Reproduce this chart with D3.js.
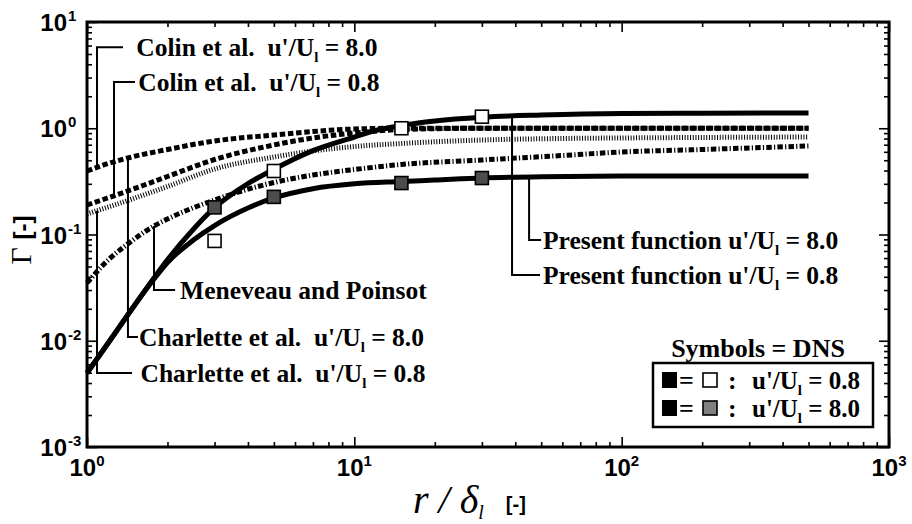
<!DOCTYPE html>
<html>
<head>
<meta charset="utf-8">
<script src="https://cdn.jsdelivr.net/npm/d3@7"></script>
<style>
  html, body { margin: 0; padding: 0; background: #fff; }
  svg { display: block; }
  text { white-space: pre; }
</style>
</head>
<body>
<svg id="chart" width="912" height="524"></svg>
<script>
// ---- model curves: Gamma versus r / delta_l ----
const present08R   = [1, 1.2, 1.42, 1.78, 2, 2.5, 3, 4, 5, 7, 10, 12, 15, 20, 30, 50, 100, 200, 500];
const present08    = [0.00497, 0.00952, 0.01748, 0.039, 0.0578, 0.1122, 0.1788, 0.3013, 0.411, 0.616, 0.827, 0.952, 1.061, 1.17, 1.27, 1.332, 1.377, 1.385, 1.391];
const present80R   = [1, 1.2, 1.42, 1.78, 2, 2.5, 3, 4, 5, 7, 10, 15, 20, 30, 50, 100, 500];
const present80    = [0.00497, 0.00952, 0.01748, 0.0381, 0.0545, 0.0887, 0.1215, 0.1776, 0.2206, 0.27, 0.30, 0.315, 0.325, 0.34, 0.35, 0.355, 0.355];

const colin80R     = [1, 1.2, 1.42, 2, 3, 5, 7, 10, 15, 30, 100, 500];
const colin80      = [0.396, 0.465, 0.525, 0.631, 0.759, 0.864, 0.932, 0.984, 1.0, 1.0, 1.0, 1.0];
const colin08R     = [1, 1.42, 2, 3, 5, 7, 10, 15, 30, 100, 500];
const colin08      = [0.1895, 0.2566, 0.3515, 0.508, 0.696, 0.81, 0.902, 0.973, 1.0, 1.0, 1.0];

const charlette08R = [1, 1.42, 2, 3, 5, 7, 10, 15, 30, 60, 100, 200, 500];
const charlette08  = [0.156, 0.209, 0.283, 0.4135, 0.536, 0.611, 0.673, 0.719, 0.775, 0.801, 0.81, 0.819, 0.827];

const meneveauR    = [1, 1.2, 1.42, 1.78, 2, 3, 5, 7, 10, 15, 30, 60, 100, 200, 500];
const meneveau     = [0.035, 0.0575, 0.0814, 0.1202, 0.14, 0.2113, 0.3086, 0.363, 0.409, 0.456, 0.5025, 0.554, 0.5976, 0.631, 0.681];

// ---- DNS symbols ----
const dnsR         = [3, 5, 15, 30];
const dns08        = [0.087, 0.396, 1.0, 1.285];
const dns80        = [0.18, 0.226, 0.305, 0.34];

// ---- axis ticks ----
const xMajor = [1, 10, 100, 1000];
const xExp   = ["0", "1", "2", "3"];
const yMajor = [10, 1, 0.1, 0.01, 0.001];
const yExp   = ["1", "0", "-1", "-2", "-3"];

const svg = d3.select("#chart");
const L = 87, R = 889, T = 22, B = 447;

const x = d3.scaleLog().domain([1, 1000]).range([L, R]);
const y = d3.scaleLog().domain([0.001, 10]).range([B, T]);

function minorTicks(lo, hi) {
  const out = [];
  for (let d = lo; d < hi; d *= 10)
    for (let k = 2; k <= 9; k++) out.push(d * k);
  return out;
}
const xMinor = minorTicks(1, 1000);
const yMinor = minorTicks(0.001, 10);

// ---- ticks on all four sides, pointing inward ----
function tickAxis(gen, tr, values, size) {
  const g = svg.append("g").attr("transform", tr)
    .call(gen.tickValues(values).tickSize(size).tickFormat(""));
  g.select(".domain").remove();
  g.selectAll(".tick line").attr("stroke", "#000").attr("stroke-width", 1.6);
}
tickAxis(d3.axisBottom(x), `translate(0,${B})`, xMajor, -10);
tickAxis(d3.axisBottom(x), `translate(0,${B})`, xMinor, -5);
tickAxis(d3.axisTop(x), `translate(0,${T})`, xMajor, -10);
tickAxis(d3.axisTop(x), `translate(0,${T})`, xMinor, -5);
tickAxis(d3.axisLeft(y), `translate(${L},0)`, yMajor, -10);
tickAxis(d3.axisLeft(y), `translate(${L},0)`, yMinor, -5);
tickAxis(d3.axisRight(y), `translate(${R},0)`, yMajor, -10);
tickAxis(d3.axisRight(y), `translate(${R},0)`, yMinor, -5);

// ---- tick labels with powers of ten ----
const tickFont = "'Liberation Sans', Arial, sans-serif";
xMajor.forEach((v, i) => {
  const t = svg.append("text")
    .attr("x", x(v)).attr("y", 476)
    .attr("text-anchor", "middle")
    .attr("font-family", tickFont).attr("font-weight", "bold")
    .attr("font-size", 24);
  t.append("tspan").text("10");
  t.append("tspan").attr("font-size", 15).attr("dy", -10).text(xExp[i]);
});
yMajor.forEach((v, i) => {
  svg.append("text")
    .attr("x", 67).attr("y", y(v) + 9)
    .attr("text-anchor", "end")
    .attr("font-family", tickFont).attr("font-weight", "bold")
    .attr("font-size", 24).text("10");
  svg.append("text")
    .attr("x", 68).attr("y", y(v) - 1)
    .attr("font-family", tickFont).attr("font-weight", "bold")
    .attr("font-size", 15).text(yExp[i]);
});

// ---- axis titles ----
const serif = "'Liberation Serif', 'Times New Roman', serif";
const xt = svg.append("text").attr("x", 413).attr("y", 513).attr("font-family", serif);
xt.append("tspan").attr("font-style", "italic").attr("font-size", 40).text("r / δ");
xt.append("tspan").attr("font-style", "italic").attr("font-size", 20).attr("dy", 6).text("l");
xt.append("tspan").attr("font-family", tickFont).attr("font-weight", "bold")
  .attr("font-size", 20).attr("dx", 22).attr("dy", -8).text("[-]");

const yt = svg.append("text").attr("transform", "translate(31,240) rotate(-90)")
  .attr("text-anchor", "middle");
yt.append("tspan").attr("font-family", serif).attr("font-size", 30).text("Γ ");
yt.append("tspan").attr("font-family", tickFont).attr("font-weight", "bold")
  .attr("font-size", 24).text("[-]");

// ---- curves ----
const line = d3.line().x(d => x(d[0])).y(d => y(d[1])).curve(d3.curveMonotoneX);
const zip = (a, b) => a.map((v, i) => [v, b[i]]);

const series = [
  { r: charlette08R, g: charlette08, w: 5, dash: "1 1.7" },
  { r: colin08R,     g: colin08,     w: 5, dash: "5.5 2.7" },
  { r: colin80R,     g: colin80,     w: 5, dash: "5.5 2.7" },
  { r: meneveauR,    g: meneveau,    w: 5, dash: "5.5 2.2 1.2 2.2" },
  { r: present80R,   g: present80,   w: 5, dash: null },
  { r: present08R,   g: present08,   w: 5, dash: null }
];
series.forEach(s => {
  svg.append("path")
    .datum(zip(s.r, s.g))
    .attr("d", line)
    .attr("fill", "none")
    .attr("stroke", "#000")
    .attr("stroke-width", s.w)
    .attr("stroke-dasharray", s.dash);
});

// ---- DNS squares ----
const sq = 13;
function squares(vals, fill) {
  svg.append("g").selectAll("rect").data(zip(dnsR, vals)).join("rect")
    .attr("x", d => x(d[0]) - sq / 2).attr("y", d => y(d[1]) - sq / 2)
    .attr("width", sq).attr("height", sq)
    .attr("fill", fill).attr("stroke", "#000").attr("stroke-width", 1.6);
}
squares(dns08, "#fff");
squares(dns80, "#4d4d4d");

// ---- frame ----
svg.append("rect").attr("x", L).attr("y", T).attr("width", R - L).attr("height", B - T)
  .attr("fill", "none").attr("stroke", "#000").attr("stroke-width", 3);

// ---- curve annotations: leader from the curve to an elbow, then across to the label ----
function interp(rs, gs, r) {
  const lr = Math.log10(r);
  for (let i = 0; i < rs.length - 1; i++) {
    const a = Math.log10(rs[i]), b = Math.log10(rs[i + 1]);
    if (lr >= a && lr <= b) {
      const t = (lr - a) / (b - a);
      return Math.pow(10, Math.log10(gs[i]) * (1 - t) + Math.log10(gs[i + 1]) * t);
    }
  }
  return gs[gs.length - 1];
}

const notes = [
  { text: "Colin et al.  u'/U", tail: " = 8.0", r: 1.09,  curve: [colin80R, colin80],          elbow: 5.8,     rEnd: 1.364, rText: 1.53 },
  { text: "Colin et al.  u'/U", tail: " = 0.8", r: 1.262, curve: [colin08R, colin08],          elbow: 2.72,    rEnd: 1.512, rText: 1.555 },
  { text: "Meneveau and Poinsot", tail: null,   r: 1.781, curve: [meneveauR, meneveau],        elbow: 0.030,   rEnd: 2.135, rText: 2.23 },
  { text: "Charlette et al.  u'/U", tail: " = 8.0", r: 1.423, curve: [colin80R, colin80],      elbow: 0.01084, rEnd: 1.551, rText: 1.565 },
  { text: "Charlette et al.  u'/U", tail: " = 0.8", r: 1.09, curve: [charlette08R, charlette08], elbow: 0.00497, rEnd: 1.474, rText: 1.585 },
  { text: "Present function u'/U", tail: " = 8.0", r: 45.05, curve: [present80R, present80],   elbow: 0.0888,  rEnd: 49.95, rText: 50.8 },
  { text: "Present function u'/U", tail: " = 0.8", r: 38.9, curve: [present08R, present08],    elbow: 0.0416,  rEnd: 49.5,  rText: 50.8 }
];

notes.forEach(n => {
  const gc = interp(n.curve[0], n.curve[1], n.r);
  svg.append("path")
    .attr("d", `M${x(n.r)},${y(gc)}V${y(n.elbow)}H${x(n.rEnd)}`)
    .attr("fill", "none").attr("stroke", "#000").attr("stroke-width", 2);
  const t = svg.append("text")
    .attr("x", x(n.rText)).attr("y", y(n.elbow) + 9)
    .attr("font-family", serif).attr("font-weight", "bold").attr("font-size", 25.5);
  t.append("tspan").text(n.text);
  if (n.tail) {
    t.append("tspan").attr("font-size", 15).attr("dy", 6).text("l");
    t.append("tspan").attr("dy", -6).text(n.tail);
  }
});

// ---- symbol legend ----
svg.append("text").attr("x", 758).attr("y", 357).attr("text-anchor", "middle")
  .attr("font-family", serif).attr("font-weight", "bold").attr("font-size", 26)
  .text("Symbols = DNS");
svg.append("rect").attr("x", 653).attr("y", 363).attr("width", 220).attr("height", 64)
  .attr("fill", "#fff").attr("stroke", "#000").attr("stroke-width", 2.5);

const legendRows = [
  { fill: "#fff", label: " = 0.8", cy: 380 },
  { fill: "#808080", label: " = 8.0", cy: 408 }
];
legendRows.forEach(row => {
  svg.append("rect").attr("x", 662).attr("y", row.cy - 8).attr("width", 15).attr("height", 16)
    .attr("fill", "#000");
  svg.append("text").attr("x", 679).attr("y", row.cy + 9)
    .attr("font-family", serif).attr("font-weight", "bold").attr("font-size", 26).text("=");
  svg.append("rect").attr("x", 703).attr("y", row.cy - 7).attr("width", 14).attr("height", 14)
    .attr("fill", row.fill).attr("stroke", "#000").attr("stroke-width", 1.6);
  svg.append("text").attr("x", 728).attr("y", row.cy + 9)
    .attr("font-family", serif).attr("font-weight", "bold").attr("font-size", 26).text(":");
  const t = svg.append("text").attr("x", 752).attr("y", row.cy + 9)
    .attr("font-family", serif).attr("font-weight", "bold").attr("font-size", 25);
  t.append("tspan").text("u'/U");
  t.append("tspan").attr("font-size", 15).attr("dy", 6).text("l");
  t.append("tspan").attr("dy", -6).text(row.label);
});
</script>
</body>
</html>
